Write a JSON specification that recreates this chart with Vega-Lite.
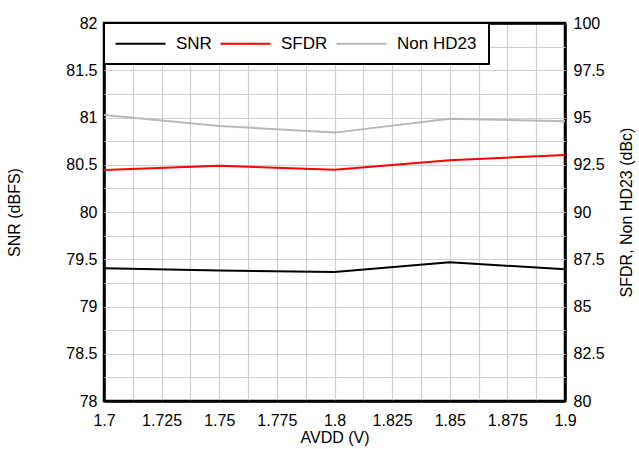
{
  "$schema": "https://vega.github.io/schema/vega-lite/v6.json",
  "width": 461,
  "height": 378,
  "autosize": {"type": "none"},
  "padding": {"left": 104, "top": 23, "right": 74, "bottom": 48},
  "background": "white",
  "config": {
    "font": "Liberation Sans",
    "view": {"stroke": "black", "strokeWidth": 2.5},
    "axis": {
      "labelFont": "Liberation Sans",
      "titleFont": "Liberation Sans",
      "labelFontSize": 16,
      "titleFontSize": 16,
      "labelColor": "black",
      "titleColor": "black",
      "titleFontWeight": "normal",
      "ticks": false,
      "domain": false,
      "gridOpacity": 1
    },
    "legend": {
      "labelFont": "Liberation Sans",
      "labelFontSize": 17,
      "labelColor": "black",
      "strokeColor": "black",
      "fillColor": "white",
      "strokeWidth": 2
    }
  },
  "data": {
    "values": [
      {"avdd": 1.7, "series": "SNR", "value": 79.405},
      {"avdd": 1.75, "series": "SNR", "value": 79.38},
      {"avdd": 1.8, "series": "SNR", "value": 79.366},
      {"avdd": 1.85, "series": "SNR", "value": 79.468},
      {"avdd": 1.9, "series": "SNR", "value": 79.394},
      {"avdd": 1.7, "series": "SFDR", "value": 92.22},
      {"avdd": 1.75, "series": "SFDR", "value": 92.45},
      {"avdd": 1.8, "series": "SFDR", "value": 92.24},
      {"avdd": 1.85, "series": "SFDR", "value": 92.74},
      {"avdd": 1.9, "series": "SFDR", "value": 93.02},
      {"avdd": 1.7, "series": "Non HD23", "value": 95.13},
      {"avdd": 1.75, "series": "Non HD23", "value": 94.55},
      {"avdd": 1.8, "series": "Non HD23", "value": 94.2},
      {"avdd": 1.85, "series": "Non HD23", "value": 94.94},
      {"avdd": 1.9, "series": "Non HD23", "value": 94.8}
    ]
  },
  "encoding": {
    "x": {
      "field": "avdd",
      "type": "quantitative",
      "title": "AVDD (V)",
      "scale": {"domain": [1.7, 1.9], "nice": false, "zero": false},
      "axis": {
        "values": [1.7, 1.7125, 1.725, 1.7375, 1.75, 1.7625, 1.775, 1.7875, 1.8, 1.8125, 1.825, 1.8375, 1.85, 1.8625, 1.875, 1.8875, 1.9],
        "format": ".4~f",
        "labelExpr": "round(datum.value*80) % 2 == 0 ? datum.label : ''",
        "gridColor": {"condition": {"test": "datum.value <= 1.7001 || datum.value >= 1.8999", "value": "black"}, "value": "#cfcfcf"},
        "gridWidth": {"condition": {"test": "datum.value <= 1.7001 || datum.value >= 1.8999", "value": 2.5}, "value": 1.2},
        "labelPadding": 11,
        "titlePadding": 1,
        "labelFlush": false,
        "labelOverlap": false
      }
    },
    "color": {
      "field": "series",
      "type": "nominal",
      "scale": {"domain": ["SNR", "SFDR", "Non HD23"], "range": ["black", "#ff0000", "#b8b8b8"]},
      "legend": {
        "title": null,
        "orient": "top-left",
        "offset": 0,
        "direction": "horizontal",
        "columns": 3,
        "padding": 12,
        "symbolType": "M-5,0H5",
        "symbolSize": 100,
        "symbolStrokeWidth": 2,
        "symbolOffset": 16,
        "labelOffset": 27,
        "columnPadding": 4
      }
    }
  },
  "layer": [
    {
      "transform": [{"filter": "datum.series == 'SNR'"}],
      "mark": {"type": "line", "strokeWidth": 2},
      "encoding": {
        "y": {
          "field": "value",
          "type": "quantitative",
          "title": "SNR (dBFS)",
          "scale": {"domain": [78, 82], "nice": false, "zero": false},
          "axis": {
            "orient": "left",
            "values": [78, 78.25, 78.5, 78.75, 79, 79.25, 79.5, 79.75, 80, 80.25, 80.5, 80.75, 81, 81.25, 81.5, 81.75, 82],
            "format": ".1~f",
            "labelExpr": "round(datum.value*4) % 2 == 0 ? datum.label : ''",
            "gridColor": {"condition": {"test": "datum.value <= 78 || datum.value >= 82", "value": "black"}, "value": "#cfcfcf"},
            "gridWidth": {"condition": {"test": "datum.value <= 78 || datum.value >= 82", "value": 2.5}, "value": 1.2},
            "labelPadding": 7,
            "titlePadding": 43,
            "labelFlush": false,
            "labelOverlap": false
          }
        }
      }
    },
    {
      "transform": [{"filter": "datum.series != 'SNR'"}],
      "mark": {"type": "line", "strokeWidth": 2},
      "encoding": {
        "y": {
          "field": "value",
          "type": "quantitative",
          "title": "SFDR, Non HD23 (dBc)",
          "scale": {"domain": [80, 100], "nice": false, "zero": false},
          "axis": {
            "orient": "right",
            "values": [80, 82.5, 85, 87.5, 90, 92.5, 95, 97.5, 100],
            "format": ".1~f",
            "grid": false,
            "labelPadding": 8,
            "titleAngle": 270,
            "titleBaseline": "top",
            "titlePadding": 14,
            "labelFlush": false,
            "labelOverlap": false
          }
        }
      }
    }
  ],
  "resolve": {"scale": {"y": "independent"}}
}
